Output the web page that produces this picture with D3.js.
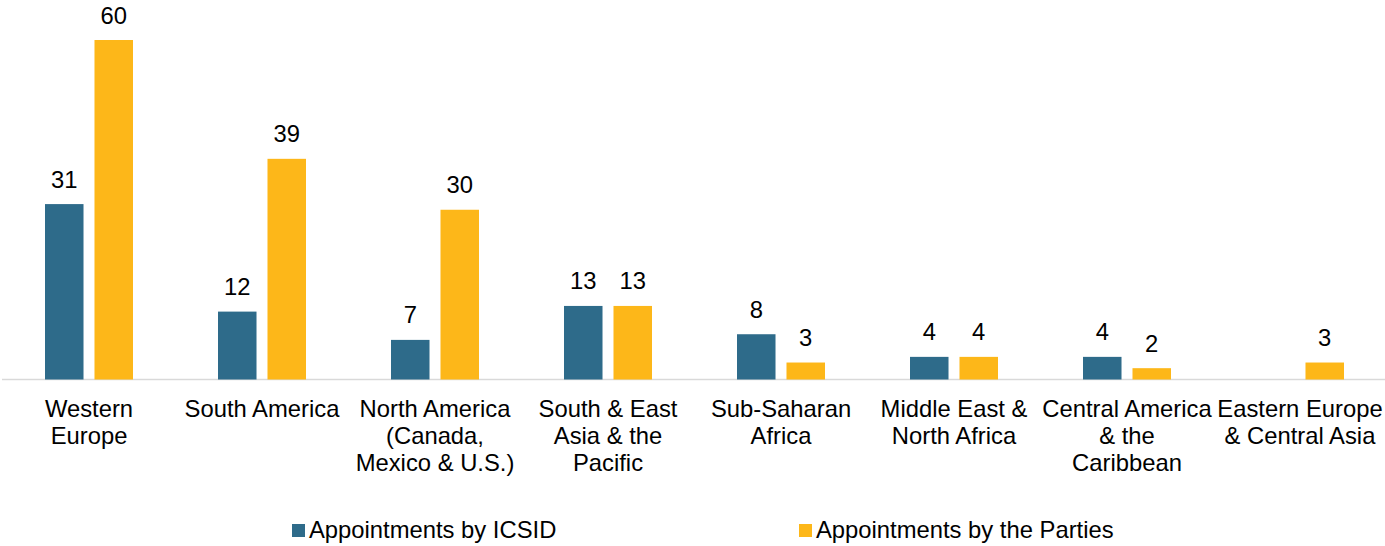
<!DOCTYPE html>
<html><head><meta charset="utf-8">
<script src="https://cdn.jsdelivr.net/npm/d3@7"></script>
<style>body{margin:0;background:#fff;} svg{display:block;font-family:"Liberation Sans",Arial,sans-serif;}</style>
</head><body><svg id="c" width="1385" height="546"></svg>
<script>
const categories = ["Western Europe","South America","North America (Canada, Mexico & U.S.)","South & East Asia & the Pacific","Sub-Saharan Africa","Middle East & North Africa","Central America & the Caribbean","Eastern Europe & Central Asia"];
const categoryLines = [["Western","Europe"],["South America"],["North America","(Canada,","Mexico & U.S.)"],["South & East","Asia & the","Pacific"],["Sub-Saharan","Africa"],["Middle East &","North Africa"],["Central America","& the","Caribbean"],["Eastern Europe","& Central Asia"]];
const seriesNames = ["Appointments by ICSID","Appointments by the Parties"];
const icsid = [31,12,7,13,8,4,4,null];
const parties = [60,39,30,13,3,4,2,3];
const colors = ["#2e6b8a","#fdb719"];

const svg = d3.select("#c");
const x = d3.scaleBand().domain(categories).range([2.5,1386.5]).padding(0);
const y = d3.scaleLinear().domain([0,60]).range([379.5,40]);
const xs = d3.scaleBand().domain(seriesNames).range([-44,44]).paddingInner(0.222).paddingOuter(0);
const seriesData = [icsid, parties];

// axis line
svg.append("line").attr("x1",2).attr("x2",1385).attr("y1",y(0)).attr("y2",y(0)).attr("stroke","#d9d9d9").attr("stroke-width",1.5);

seriesNames.forEach((s,si)=>{
  const g = svg.append("g");
  categories.forEach((c,ci)=>{
    const v = seriesData[si][ci];
    if (v==null) return;
    const cx = x(c)+x.bandwidth()/2;
    const bx = cx + xs(s);
    g.append("rect").attr("x",bx).attr("y",y(v)).attr("width",xs.bandwidth()).attr("height",y(0)-y(v)).attr("fill",colors[si]);
    g.append("text").attr("x",bx+xs.bandwidth()/2).attr("y",y(v)-16.5).attr("text-anchor","middle").attr("font-size",23.8).attr("fill","#000").text(v);
  });
});

// category labels
categories.forEach((c,ci)=>{
  const cx = x(c)+x.bandwidth()/2;
  const t = svg.append("text").attr("text-anchor","middle").attr("font-size",23.8).attr("fill","#000");
  categoryLines[ci].forEach((ln,li)=>{
    t.append("tspan").attr("x",cx).attr("y",417+li*27).text(ln);
  });
});

// legend
const legX = [292,799];
seriesNames.forEach((s,si)=>{
  svg.append("rect").attr("x",legX[si]).attr("y",524).attr("width",13).attr("height",13).attr("fill",colors[si]);
  svg.append("text").attr("x",legX[si]+17).attr("y",538).attr("font-size",23.8).attr("fill","#000").text(s);
});
</script></body></html>
